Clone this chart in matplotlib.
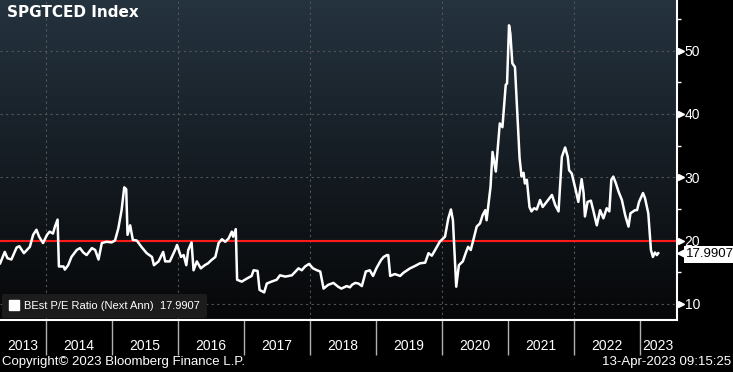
import numpy as np
import matplotlib.pyplot as plt
from matplotlib.lines import Line2D
from matplotlib.transforms import blended_transform_factory, offset_copy

# decimal year, BEst P/E ratio (next annual)
years = [
    2013.31, 2013.38, 2013.42, 2013.48, 2013.56, 2013.60, 2013.67, 2013.76, 2013.81, 2013.86,
    2013.90, 2013.96, 2014.02, 2014.06, 2014.11, 2014.14, 2014.18, 2014.20, 2014.27, 2014.29,
    2014.34, 2014.39, 2014.47, 2014.52, 2014.57, 2014.62, 2014.70, 2014.75, 2014.80, 2014.85,
    2014.92, 2015.00, 2015.05, 2015.10, 2015.15, 2015.19, 2015.22, 2015.24, 2015.28, 2015.32,
    2015.38, 2015.45, 2015.53, 2015.61, 2015.64, 2015.71, 2015.78, 2015.81, 2015.88, 2015.96,
    2015.99, 2016.05, 2016.09, 2016.13, 2016.16, 2016.21, 2016.24, 2016.29, 2016.35, 2016.41,
    2016.46, 2016.51, 2016.57, 2016.62, 2016.67, 2016.72, 2016.77, 2016.82, 2016.84, 2016.88,
    2016.90, 2016.97, 2017.05, 2017.12, 2017.15, 2017.21, 2017.24, 2017.31, 2017.35, 2017.42,
    2017.50, 2017.55, 2017.63, 2017.73, 2017.83, 2017.88, 2017.93, 2017.99, 2018.05, 2018.11,
    2018.16, 2018.21, 2018.28, 2018.36, 2018.43, 2018.48, 2018.56, 2018.61, 2018.64, 2018.69,
    2018.74, 2018.79, 2018.85, 2018.91, 2018.96, 2019.01, 2019.08, 2019.12, 2019.17, 2019.19,
    2019.22, 2019.29, 2019.37, 2019.42, 2019.52, 2019.60, 2019.67, 2019.75, 2019.80, 2019.85,
    2019.90, 2019.97, 2020.05, 2020.10, 2020.14, 2020.17, 2020.22, 2020.26, 2020.32, 2020.37,
    2020.40, 2020.44, 2020.48, 2020.53, 2020.58, 2020.62, 2020.66, 2020.68, 2020.71, 2020.74,
    2020.77, 2020.82, 2020.88, 2020.92, 2020.97, 2020.99, 2021.02, 2021.04, 2021.07, 2021.11,
    2021.14, 2021.18, 2021.21, 2021.24, 2021.26, 2021.29, 2021.33, 2021.36, 2021.40, 2021.44,
    2021.49, 2021.53, 2021.59, 2021.67, 2021.72, 2021.77, 2021.82, 2021.87, 2021.91, 2021.93,
    2021.97, 2022.03, 2022.07, 2022.12, 2022.15, 2022.17, 2022.21, 2022.26, 2022.30, 2022.35,
    2022.40, 2022.45, 2022.50, 2022.54, 2022.57, 2022.60, 2022.64, 2022.68, 2022.73, 2022.78,
    2022.83, 2022.86, 2022.93, 2022.96, 2022.99, 2023.05, 2023.08, 2023.13, 2023.16, 2023.17,
    2023.20, 2023.23, 2023.26, 2023.28,
]
pe_ratio = [
    16.4, 18.2, 17.2, 17.0, 18.9, 19.1, 18.0, 19.0, 20.9, 21.7,
    20.6, 19.6, 20.9, 21.4, 21.1, 22.2, 23.3, 15.9, 15.9, 15.4,
    16.1, 17.4, 18.5, 18.8, 18.1, 17.7, 18.8, 18.5, 17.0, 19.6,
    19.8, 19.7, 20.0, 21.9, 24.8, 28.4, 28.1, 20.9, 22.4, 20.1,
    20.0, 19.0, 18.0, 17.4, 16.1, 16.7, 18.2, 16.7, 16.7, 18.5,
    19.3, 17.4, 17.7, 16.1, 18.5, 19.7, 15.3, 16.7, 15.6, 16.1,
    16.4, 16.9, 17.4, 19.6, 20.2, 19.8, 20.3, 21.4, 20.6, 21.8,
    13.8, 13.5, 14.0, 14.4, 15.3, 15.2, 12.2, 11.8, 13.2, 13.5,
    13.8, 14.5, 14.3, 14.5, 15.6, 15.3, 15.9, 16.3, 15.6, 15.3,
    15.1, 12.4, 13.0, 13.3, 12.7, 12.4, 12.8, 12.6, 13.0, 13.3,
    13.2, 12.8, 15.1, 15.3, 14.4, 15.6, 16.9, 17.4, 17.7, 17.7,
    14.4, 14.7, 14.4, 14.9, 15.6, 16.0, 16.4, 16.5, 18.0, 17.6,
    18.5, 19.8, 20.6, 23.5, 24.9, 23.2, 12.7, 16.1, 16.7, 18.2,
    19.0, 18.5, 20.1, 22.2, 22.7, 24.0, 24.8, 23.2, 25.9, 28.5,
    34.0, 30.9, 38.5, 37.9, 44.6, 44.8, 54.0, 52.7, 48.0, 47.4,
    41.1, 33.0, 30.1, 30.7, 29.0, 29.6, 25.3, 24.6, 25.1, 24.9,
    26.4, 25.3, 26.1, 27.2, 25.6, 24.6, 33.2, 34.7, 33.2, 31.1,
    30.6, 28.0, 26.1, 29.7, 27.5, 23.8, 26.1, 26.3, 24.6, 22.4,
    24.8, 23.5, 25.1, 24.6, 29.6, 30.1, 29.0, 27.7, 26.4, 24.0,
    22.2, 24.3, 24.8, 24.8, 26.1, 27.5, 26.7, 24.3, 20.1, 18.5,
    17.4, 18.1, 17.7, 17.9907,
]
year_labels = [2013, 2014, 2015, 2016, 2017, 2018, 2019, 2020, 2021, 2022, 2023]
y_ticks = [10, 20, 30, 40, 50]
ref_level = 20
last_value = 17.9907

x_min, x_max = 2013.3076, 2023.565
y_min, y_max = 7.44, 58.0

plt.rcParams["font.family"] = ["Liberation Sans", "DejaVu Sans"]

fig = plt.figure(figsize=(7.33, 3.72), dpi=100, facecolor="black")
ax = fig.add_axes([0, 1 - 320 / 372, 677 / 733, 320 / 372])
ax.set_xlim(x_min, x_max)
ax.set_ylim(y_min, y_max)

# vertical gradient background, slate at top to near-black at bottom
grad = np.linspace(0, 1, 256).reshape(-1, 1)
top = np.array([0x25, 0x33, 0x3f]) / 255
bottom = np.array([0x06, 0x07, 0x08]) / 255
img = top * (1 - grad[..., None]) + bottom * grad[..., None]
ax.imshow(img, extent=[x_min, x_max, y_min, y_max], aspect="auto", zorder=0)

# grid
for gy in y_ticks:
    ax.axhline(gy, color="#555555", lw=0.8, ls=(0, (2, 3)), zorder=1)
for gx in range(2014, 2023, 2):
    ax.axvline(gx, color="#555555", lw=0.8, ls=(0, (2, 3)), zorder=1)

ax.axhline(ref_level, color="#ff1a1a", lw=1.5, zorder=2)
ax.plot(years, pe_ratio, color="white", lw=1.8, zorder=3)

ax.set_facecolor("black")
for side in ["left", "top"]:
    ax.spines[side].set_visible(False)
ax.spines["right"].set_color("white")
ax.spines["bottom"].set_color("white")
ax.spines["right"].set_linewidth(1.5)
ax.spines["bottom"].set_linewidth(1.5)

# right axis
ax.yaxis.tick_right()
ax.set_yticks(y_ticks)
ax.set_yticklabels([str(v) for v in y_ticks])
ax.set_yticks([15, 25, 35, 45, 55], minor=True)
ax.tick_params(axis="y", which="major", length=0, pad=5.5, labelcolor="white", labelsize=10)
ax.tick_params(axis="y", which="minor", length=3, width=1, color="white", direction="out")
ytrans = offset_copy(blended_transform_factory(ax.transAxes, ax.transData), fig=fig, x=3.5, y=0, units="dots")
ax.plot([1.0] * len(y_ticks), y_ticks, ls="none", marker=">", ms=5, color="white",
        transform=ytrans, clip_on=False)

# x axis: year boundaries as long ticks, labels centred on visible part of each year
ax.set_xticks([y for y in year_labels if x_min < y < x_max], minor=True)
centers = [(max(y, x_min) + min(y + 1, x_max)) / 2 for y in year_labels]
ax.set_xticks(centers)
ax.set_xticklabels([str(y) for y in year_labels])
ax.tick_params(axis="x", which="major", length=0, pad=14, labelcolor="white", labelsize=10)
ax.tick_params(axis="x", which="minor", length=25, width=1, color="#b0b0b0", direction="out")

# last value tag
tag_trans = blended_transform_factory(ax.transAxes, ax.transData)
ax.plot([1.0], [last_value], marker="<", ms=8, color="white",
        transform=offset_copy(tag_trans, fig=fig, x=6, y=0, units="dots"), clip_on=False)
ax.text(1.0, last_value, f"{last_value:.4f}", transform=offset_copy(tag_trans, fig=fig, x=9, y=-1, units="dots"),
        va="center", ha="left", fontsize=9.5, color="black",
        bbox=dict(boxstyle="square,pad=0.18", fc="white", ec="none"))

ax.text(0.011, 0.985, "SPGTCED Index", transform=ax.transAxes, ha="left", va="top",
        fontsize=11, fontweight="bold", color="white", family="DejaVu Sans")

handle = Line2D([], [], ls="none", marker="s", ms=7, color="white")
leg = ax.legend([handle], [f"BEst P/E Ratio (Next Ann)  {last_value:.4f}"],
                loc="lower left", bbox_to_anchor=(2 / 677, 2 / 320), borderaxespad=0,
                frameon=True, fontsize=8, handlelength=0.8, handletextpad=0.5,
                borderpad=0.65, fancybox=True)
leg.get_frame().set_facecolor("#1c1c1c")
leg.get_frame().set_edgecolor("none")
leg.get_frame().set_alpha(1)
for t in leg.get_texts():
    t.set_color("white")

fig.text(2 / 733, 1 - 362 / 372, "Copyright\u00a9 2023 Bloomberg Finance L.P.", color="white",
         fontsize=9.5, ha="left", va="center")
fig.text(731 / 733, 1 - 362 / 372, "13-Apr-2023 09:15:25", color="white",
         fontsize=9.5, ha="right", va="center")

fig.savefig("out.png", dpi=100, facecolor="black")
